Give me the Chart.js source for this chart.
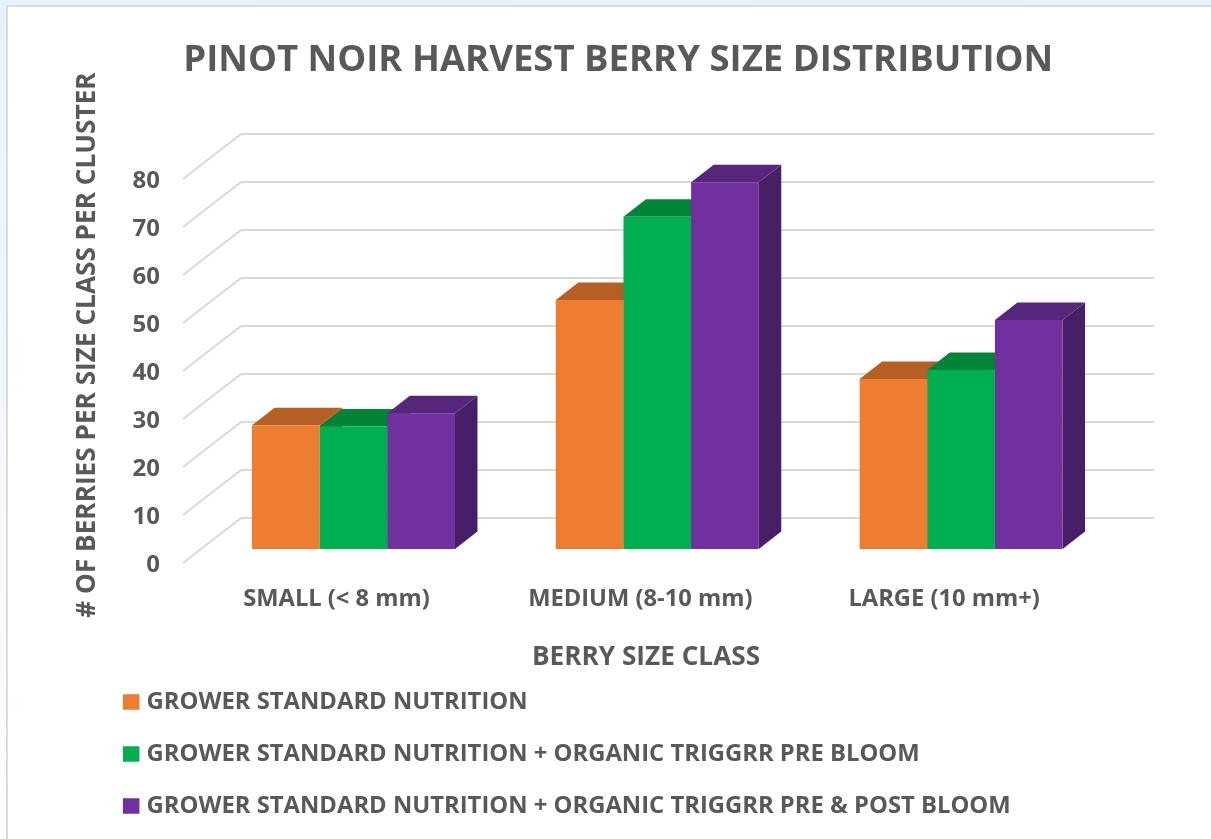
<!DOCTYPE html>
<html>
<head>
<meta charset="utf-8">
<title>Pinot Noir harvest berry size distribution</title>
<script src="https://cdn.jsdelivr.net/npm/chart.js@4"></script>
<style>
  html, body { margin: 0; height: 100%; overflow: hidden; }
  body { background: linear-gradient(#e6f2ff, #f3f9ff 60%, #ffffff); }
  #sheet { position: absolute; left: 6px; top: 5px; right: 0; bottom: 0; background: #fff; border-left: 2px solid #dcdcdc; border-top: 2px solid #dcdcdc; }
  canvas { position: absolute; left: 0; top: 0; }
</style>
</head>
<body>
<div id="sheet"></div>
<canvas id="berryChart" width="1211" height="839"></canvas>
<script>
const categories = ['SMALL (< 8 mm)', 'MEDIUM (8-10 mm)', 'LARGE (10 mm+)'];
const seriesNames = [
  'GROWER STANDARD NUTRITION',
  'GROWER STANDARD NUTRITION + ORGANIC TRIGGRR PRE BLOOM',
  'GROWER STANDARD NUTRITION + ORGANIC TRIGGRR PRE & POST BLOOM'
];
const growerStandard = [25.8, 51.9, 35.4];
const prePlusBloom = [25.5, 69.2, 37.3];
const prePostBloom = [28.3, 76.4, 47.7];

const TEXT = '#595959';
const FONT = '"Open Sans", sans-serif';
// front, top, side
const colors = [
  ['#ED7D31', '#B56022', '#9A5120'],
  ['#00B050', '#008538', '#00702F'],
  ['#7030A0', '#55267B', '#461F66']
];

// fake 3d depth
const BAR_DX = 22.5, BAR_DY = 17.5;
const BACK_DX = 39.4, BACK_DY = 31;
const FRONT_DX = 18.6, FRONT_DY = 14;

const fake3d = {
  id: 'fake3d',
  afterLayout(chart) {
    chart.titleBlock.left += 24; // title sits right of the page centre
  },
  beforeDatasetsDraw(chart) {
    const { ctx, chartArea: area, scales: { y } } = chart;
    ctx.save();
    // walls
    ctx.strokeStyle = '#d9d9d9';
    ctx.lineWidth = 2;
    y.ticks.forEach(t => {
      const py = y.getPixelForValue(t.value);
      ctx.beginPath();
      ctx.moveTo(area.left - FRONT_DX, py + FRONT_DY);
      ctx.lineTo(area.left + BACK_DX, py - BACK_DY);
      ctx.lineTo(area.right + BACK_DX + 1.5, py - BACK_DY);
      ctx.stroke();
    });
    const poly = (color, pts) => {
      ctx.fillStyle = color;
      ctx.beginPath();
      pts.forEach((p, i) => i ? ctx.lineTo(p[0], p[1]) : ctx.moveTo(p[0], p[1]));
      ctx.closePath();
      ctx.fill();
    };
    categories.forEach((c, j) => {
      const bars = chart.data.datasets.map((d, i) => ({ i, el: chart.getDatasetMeta(i).data[j] }));
      // sides first, then tops with the shorter bars underneath
      bars.forEach(({ i, el }) => {
        const r = el.x + el.width / 2;
        poly(colors[i][2], [[r, el.y], [r + BAR_DX, el.y - BAR_DY], [r + BAR_DX, el.base - BAR_DY], [r, el.base]]);
      });
      bars.sort((a, b) => b.el.y - a.el.y);
      bars.forEach(({ i, el }) => {
        const l = el.x - el.width / 2, r = el.x + el.width / 2;
        poly(colors[i][1], [[l, el.y], [l + BAR_DX, el.y - BAR_DY], [r + BAR_DX, el.y - BAR_DY], [r, el.y]]);
      });
    });
    ctx.restore();
  },
  afterDraw(chart) {
    const { ctx } = chart;
    ctx.save();
    ctx.fillStyle = TEXT;
    ctx.font = 'bold 26.2px ' + FONT;
    ctx.textAlign = 'center';
    ctx.textBaseline = 'middle';
    ctx.fillText('BERRY SIZE CLASS', 646, 658);
    ctx.translate(88, 345);
    ctx.rotate(-Math.PI / 2);
    ctx.fillText('# OF BERRIES PER SIZE CLASS PER CLUSTER', 0, 0);
    ctx.restore();
  }
};

new Chart(document.getElementById('berryChart'), {
  type: 'bar',
  data: {
    labels: categories,
    datasets: [
      { label: seriesNames[0], data: growerStandard, backgroundColor: colors[0][0] },
      { label: seriesNames[1], data: prePlusBloom, backgroundColor: colors[1][0] },
      { label: seriesNames[2], data: prePostBloom, backgroundColor: colors[2][0] }
    ]
  },
  plugins: [fake3d],
  options: {
    responsive: false,
    animation: false,
    layout: { padding: { left: 99.5, right: 98, top: 0, bottom: 11 } },
    datasets: { bar: { barPercentage: 1, categoryPercentage: 0.668, borderWidth: 0 } },
    scales: {
      x: {
        grid: { display: false, drawTicks: false },
        border: { display: false },
        ticks: { color: TEXT, font: { family: FONT, size: 23.7, weight: 'bold' }, padding: 36, labelOffset: -17, maxRotation: 0 },
        afterFit(s) { s.height = 113; }
      },
      y: {
        min: 0,
        max: 80,
        grid: { display: false, drawTicks: false },
        border: { display: false },
        ticks: { stepSize: 10, color: TEXT, font: { family: FONT, size: 24, weight: 'bold' }, padding: 41.6, labelOffset: 16 },
        afterFit(s) { s.width = 102.1; }
      }
    },
    plugins: {
      title: {
        display: true,
        text: 'PINOT NOIR HARVEST BERRY SIZE DISTRIBUTION',
        color: TEXT,
        font: { family: FONT, size: 36.5, weight: 'bold', lineHeight: 1.2 },
        padding: { top: 38.7, bottom: 82.5 }
      },
      legend: {
        position: 'bottom',
        align: 'start',
        labels: {
          color: TEXT,
          font: { family: FONT, size: 23.8, weight: 'bold' },
          boxWidth: 7,
          boxHeight: 6,
          padding: 28.2,
          // thick same-colour border keeps the swatch close to its text
          generateLabels: chart => chart.data.datasets.map((d, i) => ({
            text: d.label,
            fillStyle: d.backgroundColor,
            strokeStyle: d.backgroundColor,
            lineWidth: 9.5,
            fontColor: TEXT,
            datasetIndex: i,
            hidden: false
          }))
        }
      }
    }
  }
});
</script>
</body>
</html>
